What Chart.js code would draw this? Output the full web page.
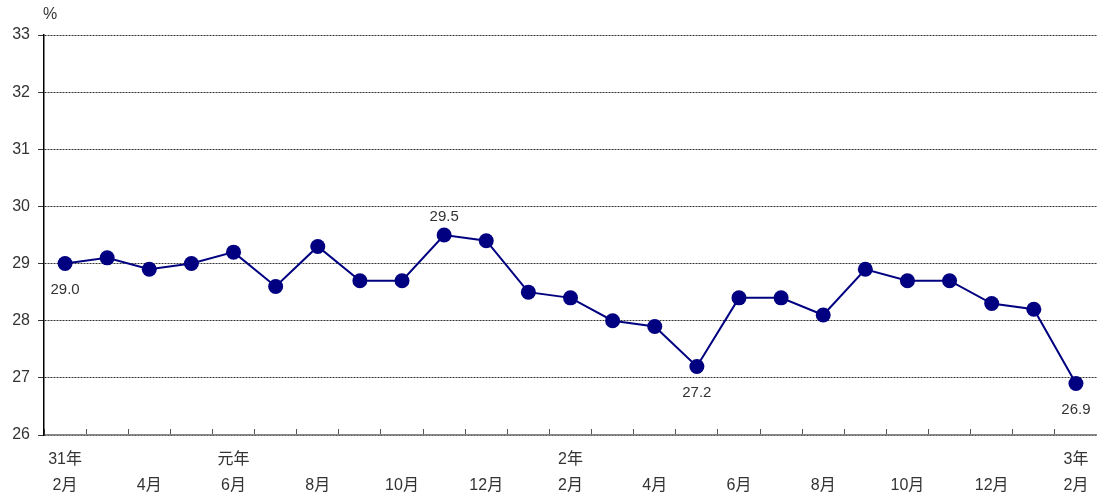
<!DOCTYPE html>
<html>
<head>
<meta charset="utf-8">
<script src="https://cdn.jsdelivr.net/npm/chart.js@4/dist/chart.umd.min.js"></script>
<style>
    html, body { margin: 0; padding: 0; background: #fff; }
    #wrap { width: 1097px; height: 493px; position: relative; }
</style>
</head>
<body>
<div id="wrap"><canvas id="rateChart"></canvas></div>
<script>
// 月ラベル（2か月ごとに表示）
const months = ['2月', '', '4月', '', '6月', '', '8月', '', '10月', '', '12月', '',
    '2月', '', '4月', '', '6月', '', '8月', '', '10月', '', '12月', '', '2月'];
const years = ['31年', '', '', '', '元年', '', '', '', '', '', '', '',
    '2年', '', '', '', '', '', '', '', '', '', '', '', '3年'];
const rates = [29.0, 29.1, 28.9, 29.0, 29.2, 28.6, 29.3, 28.7, 28.7, 29.5, 29.4, 28.5,
    28.4, 28.0, 27.9, 27.2, 28.4, 28.4, 28.1, 28.9, 28.7, 28.7, 28.3, 28.2, 26.9];
// 値を表示する点: [index, 上(-1)/下(1)]
const shownValues = [[0, 1], [9, -1], [15, 1], [24, 1]];
const yTicks = [26, 27, 28, 29, 30, 31, 32, 33];

const FONT = '"Liberation Sans", "Noto Sans CJK JP", sans-serif';
const labels = months.map((m, i) => [years[i], m]);

// 値ラベルと「%」を描く
const valueLabels = {
    id: 'valueLabels',
    afterDatasetsDraw(chart) {
        const ctx = chart.ctx;
        const meta = chart.getDatasetMeta(0);
        ctx.save();
        ctx.font = '15px ' + FONT;
        ctx.fillStyle = '#333';
        ctx.textAlign = 'center';
        ctx.textBaseline = 'middle';
        shownValues.forEach(([i, dir]) => {
            const pt = meta.data[i];
            const off = dir > 0 ? 26 : -18;
            ctx.fillText(rates[i].toFixed(1), pt.x, pt.y + off);
        });
        ctx.font = '16px ' + FONT;
        ctx.textAlign = 'left';
        ctx.fillText('%', chart.chartArea.left - 1, chart.chartArea.top - 20);
        ctx.restore();
    }
};

new Chart(document.getElementById('rateChart'), {
    type: 'line',
    data: {
        labels: labels,
        datasets: [{
            data: rates,
            borderColor: '#000080',
            backgroundColor: '#000080',
            borderWidth: 2,
            pointRadius: 7.5,
            pointHoverRadius: 7.5,
            pointBackgroundColor: '#000080',
            pointBorderWidth: 0,
            tension: 0
        }]
    },
    options: {
        responsive: true,
        maintainAspectRatio: false,
        animation: false,
        layout: {
            autoPadding: false,
            padding: { top: 35, right: 0, left: 0, bottom: 0 }
        },
        plugins: {
            legend: { display: false },
            tooltip: { enabled: false }
        },
        scales: {
            x: {
                offset: true,
                grid: {
                    offset: true,
                    drawOnChartArea: false,
                    drawTicks: true,
                    tickLength: -6,
                    color: '#555'
                },
                border: { color: '#888', width: 1.5 },
                ticks: {
                    autoSkip: false,
                    maxRotation: 0,
                    padding: 18,
                    color: '#333',
                    font: { family: FONT, size: 16, lineHeight: 1.6 }
                },
                afterFit(scale) {
                    scale.height = 58;
                    scale.paddingLeft = 0;
                    scale.paddingRight = 0;
                }
            },
            y: {
                min: 26,
                max: 33,
                afterBuildTicks(scale) {
                    scale.ticks = yTicks.map(v => ({ value: v }));
                },
                grid: {
                    color: '#333',
                    lineWidth: 1,
                    tickLength: 6
                },
                border: { color: '#000', width: 1.5, dash: [2, 1] },
                ticks: {
                    padding: 8,
                    color: '#333',
                    font: { family: FONT, size: 16 }
                },
                afterFit(scale) { scale.width = 44; }
            }
        }
    },
    plugins: [valueLabels]
});
</script>
</body>
</html>
